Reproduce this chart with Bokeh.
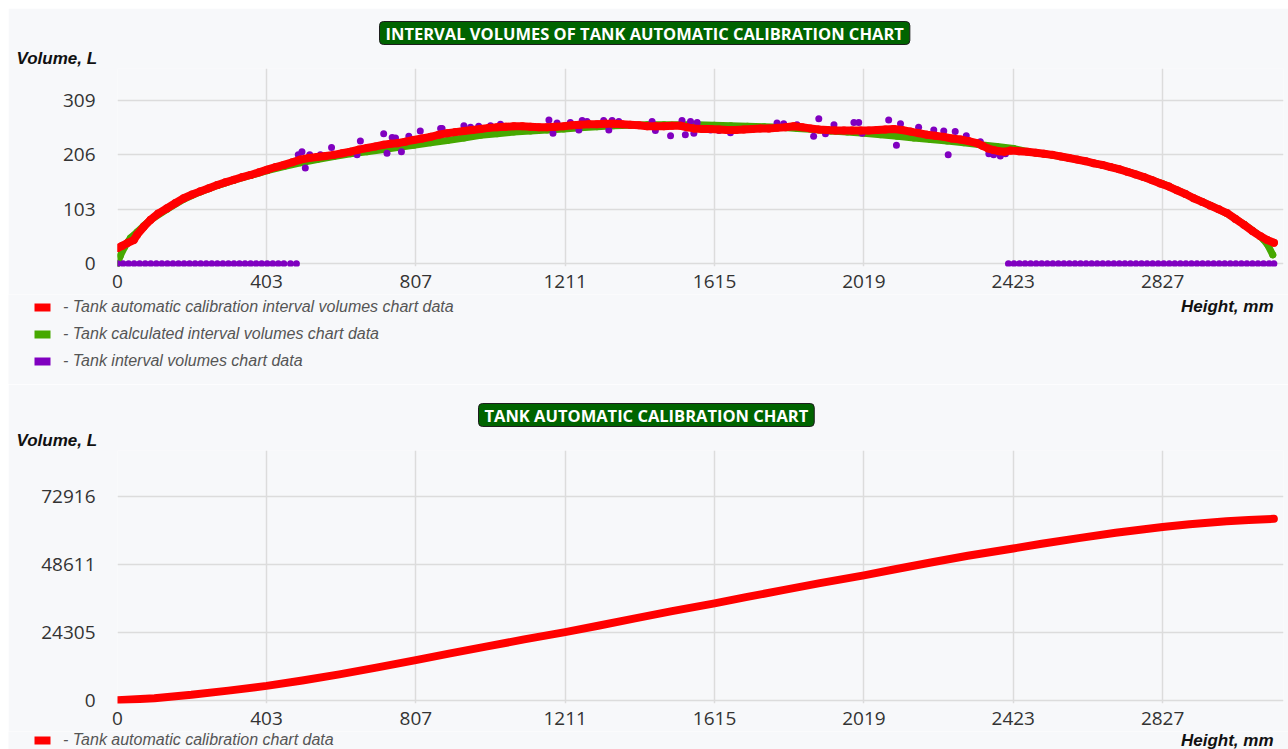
from bokeh.plotting import figure
from bokeh.models import Range1d, FixedTicker, Legend, LegendItem, Title, Label
from bokeh.layouts import column
from bokeh.embed import file_html
from bokeh.resources import INLINE

# ---------------- data ----------------
x_ticks = [0, 403, 807, 1211, 1615, 2019, 2423, 2827]
top_y_ticks = [0, 103, 206, 309]
bottom_y_ticks = [0, 24305, 48611, 72916]

red_h = [0, 13, 26, 44, 53, 71, 89, 110, 134, 157, 179, 202, 224, 247, 270, 292, 315, 338, 360, 383,
         405, 428, 450, 473, 495, 518, 540, 563, 585, 608, 630, 653, 675, 698, 720, 739, 757, 779, 801, 824,
         847, 869, 892, 914, 937, 960, 982, 1005, 1027, 1050, 1072, 1095, 1117, 1140, 1162, 1185, 1207, 1230, 1252, 1275,
         1297, 1320, 1342, 1365, 1387, 1410, 1433, 1455, 1478, 1500, 1523, 1541, 1559, 1582, 1604, 1627, 1649, 1672, 1694, 1717,
         1739, 1762, 1784, 1807, 1829, 1852, 1874, 1897, 1920, 1942, 1965, 1987, 2010, 2032, 2055, 2077, 2100, 2122, 2145, 2167,
         2190, 2212, 2235, 2257, 2280, 2302, 2325, 2340, 2355, 2370, 2385, 2400, 2415, 2438, 2461, 2484, 2506, 2529, 2551, 2574,
         2596, 2619, 2641, 2664, 2686, 2709, 2731, 2754, 2776, 2799, 2821, 2844, 2866, 2889, 2911, 2934, 2956, 2979, 3001, 3024,
         3047, 3070, 3092, 3110, 3128]
red_v = [30, 34, 39, 45, 55, 70, 83, 95, 105, 115, 124, 131, 137, 143, 149, 154, 159, 164, 168, 173,
         178, 183, 187, 192, 197, 200, 202, 204, 206, 209, 212, 216, 219, 222, 225, 227, 228, 231, 234, 237,
         240, 244, 247, 249, 251, 253, 255, 257, 258, 259, 260, 260, 259, 258, 258, 259, 260, 262, 263, 264,
         264, 265, 265, 264, 263, 262, 260, 260, 260, 261, 261, 258, 256, 255, 255, 254, 253, 253, 254, 255,
         256, 256, 257, 258, 260, 258, 256, 254, 253, 252, 252, 252, 252, 252, 253, 254, 255, 253, 250, 247,
         244, 242, 240, 237, 235, 232, 228, 223, 218, 215, 213, 212, 214, 213, 212, 210, 208, 206, 203, 200,
         197, 194, 190, 187, 183, 179, 174, 169, 164, 158, 152, 146, 139, 132, 124, 117, 110, 103, 96, 85,
         74, 62, 52, 45, 40]

green_h = [0, 8, 20, 35, 53, 71, 89, 134, 179, 224, 270, 315, 360, 405, 450, 495, 540, 585, 630, 675,
           720, 757, 801, 847, 892, 937, 982, 1027, 1072, 1117, 1162, 1207, 1252, 1297, 1342, 1387, 1433, 1478, 1523, 1568,
           1614, 1659, 1704, 1749, 1794, 1839, 1884, 1929, 1974, 2019, 2064, 2109, 2154, 2199, 2244, 2289, 2334, 2379, 2424, 2469,
           2514, 2559, 2604, 2649, 2694, 2739, 2784, 2829, 2874, 2919, 2964, 3009, 3047, 3080, 3100, 3112, 3125]
green_v = [0, 16, 33, 49, 60, 72, 83, 103, 122, 136, 148, 158, 167, 176, 184, 191, 197, 203, 208, 212,
           216, 220, 224, 229, 233, 238, 243, 246, 249, 251, 253, 255, 257, 259, 261, 262, 263, 263, 263, 263,
           262, 261, 260, 259, 258, 256, 254, 251, 249, 247, 244, 241, 238, 235, 232, 229, 225, 222, 218, 211,
           207, 202, 196, 189, 182, 173, 162, 151, 137, 122, 108, 92, 75, 58, 46, 35, 17]

purple_h = [0, 15, 30, 45, 60, 75, 90, 105, 120, 135, 150, 165, 180, 195, 210, 225, 240, 255, 270, 285,
            300, 315, 330, 345, 360, 375, 390, 405, 420, 435, 450, 468, 484,
            489, 499, 508, 520, 549, 579, 648, 657, 720, 729, 743, 752, 768, 788, 819, 874, 878, 937,
            955, 977, 1009, 1036, 1167, 1178, 1189, 1225, 1248, 1257, 1270, 1315, 1329, 1338, 1356, 1446, 1455, 1496,
            1527, 1536, 1550, 1559, 1568, 1604, 1627, 1658, 1784, 1802, 1838, 1883, 1897, 1915, 1938, 1992, 2005, 2014,
            2086, 2107, 2118, 2167, 2208, 2235, 2247, 2266, 2296, 2334, 2357, 2370, 2388, 2402,
            2410, 2425, 2440, 2455, 2470, 2485, 2500, 2515, 2530, 2545, 2560, 2575, 2590, 2605, 2620, 2635, 2650, 2665,
            2680, 2695, 2710, 2725, 2740, 2755, 2770, 2785, 2800, 2815, 2830, 2845, 2860, 2875, 2890, 2905, 2920, 2935,
            2950, 2965, 2980, 2995, 3010, 3025, 3040, 3055, 3070, 3085, 3100, 3115, 3128]
purple_v = [0, 0, 0, 0, 0, 0, 0, 0, 0, 0, 0, 0, 0, 0, 0, 0, 0, 0, 0, 0,
            0, 0, 0, 0, 0, 0, 0, 0, 0, 0, 0, 0, 0,
            206, 212, 181, 206, 206, 220, 206, 232, 246, 209, 239, 238, 212, 241, 251, 256, 256, 261,
            258, 260, 261, 264, 272, 247, 266, 267, 253, 271, 269, 271, 253, 271, 269, 269, 252, 242,
            271, 244, 269, 247, 267, 253, 252, 248, 266, 265, 263, 241, 274, 246, 263, 267, 267, 247,
            272, 224, 265, 258, 253, 251, 206, 250, 242, 231, 208, 206, 204, 208,
            0, 0, 0, 0, 0, 0, 0, 0, 0, 0, 0, 0, 0, 0, 0, 0, 0, 0,
            0, 0, 0, 0, 0, 0, 0, 0, 0, 0, 0, 0, 0, 0, 0, 0, 0, 0,
            0, 0, 0, 0, 0, 0, 0, 0, 0, 0, 0, 0, 0]

cum_h = [0, 100, 200, 300, 403, 500, 600, 700, 807, 900, 1000, 1100, 1211, 1300, 1400, 1500, 1615,
         1700, 1800, 1900, 2019, 2100, 2200, 2300, 2423, 2500, 2600, 2700, 2827, 2900, 3000, 3060, 3128]
cum_v = [0, 700, 1900, 3400, 5100, 7000, 9200, 11600, 14300, 16700, 19200, 21700, 24300, 26600, 29200, 31800, 34600,
         36800, 39300, 41800, 44600, 46700, 49200, 51600, 54200, 55900, 57900, 59800, 61900, 62900, 63900, 64400, 64800]

top_title = "INTERVAL VOLUMES OF TANK AUTOMATIC CALIBRATION CHART"
bottom_title = "TANK AUTOMATIC CALIBRATION CHART"
y_label = "Volume, L"
x_label = "Height, mm"
top_legend = ["- Tank automatic calibration interval volumes chart data",
              "- Tank calculated interval volumes chart data",
              "- Tank interval volumes chart data"]
bottom_legend = ["- Tank automatic calibration chart data"]

# ---------------- style ----------------
BG = "#f7f8fa"
RED = "#ff0000"
GREEN = "#46a800"
PURPLE = "#8000c0"
GRID = "#dcdcdc"
TICK_FONT = "Open Sans"
LEG_FONT = "Liberation Sans"
X_END = 3154


def no_frame_align(p):
    if "frame_align" in p.properties():
        p.frame_align = False


def make_fig(height, b_top, b_bottom, y0, y1, yticks):
    p = figure(width=1280, height=height, output_backend="svg", toolbar_location=None,
               x_range=Range1d(0, X_END), y_range=Range1d(y0, y1),
               min_border_left=109, min_border_right=5, min_border_top=b_top, min_border_bottom=b_bottom,
               background_fill_color=BG, border_fill_color=BG, outline_line_color=None, title=None)
    no_frame_align(p)
    for ax, ticks, standoff in ((p.xaxis, x_ticks, 2), (p.yaxis, yticks, 16)):
        ax.ticker = FixedTicker(ticks=ticks)
        ax.axis_line_color = None
        ax.major_tick_line_color = None
        ax.minor_tick_line_color = None
        ax.major_label_text_font = TICK_FONT
        ax.major_label_text_font_size = "19px"
        ax.major_label_text_color = "#333333"
        ax.major_label_standoff = standoff
    p.xgrid.ticker = FixedTicker(ticks=x_ticks)
    p.ygrid.ticker = FixedTicker(ticks=yticks)
    for g in (p.xgrid, p.ygrid):
        g.grid_line_color = GRID
        g.grid_line_width = 1.5
    return p


def add_titles(p, title, title_offset):
    p.add_layout(Title(text=y_label, align="left", offset=-101, standoff=0, vertical_align="middle",
                       text_font=LEG_FONT, text_font_size="17px", text_font_style="bold italic",
                       text_color="#111111"), "above")
    p.add_layout(Title(text=title, align="left", offset=title_offset, standoff=4, vertical_align="middle",
                       text_color="white", text_font=TICK_FONT, text_font_size="16.5px", text_font_style="bold",
                       background_fill_color="#006400", border_line_color="#1e1e1e", border_line_width=1,
                       border_radius=4, padding=(6, 0)), "above")


def make_footer(height, labels, colors, leg_loc, label_height, height_label_y):
    f = figure(width=1280, height=height, output_backend="svg", toolbar_location=None,
               x_range=Range1d(0, 1), y_range=Range1d(0, 1), x_axis_location=None, y_axis_location=None,
               min_border=0, min_border_left=0, min_border_right=0, min_border_top=0, min_border_bottom=0,
               background_fill_color=BG, border_fill_color=BG, outline_line_color=None, title=None)
    no_frame_align(f)
    f.grid.visible = False
    items = []
    for lab, col in zip(labels, colors):
        # legend swatch only (kept outside the visible range)
        r = f.quad(left=[2], right=[3], top=[3], bottom=[2], fill_color=col, line_color=None)
        items.append(LegendItem(label=lab, renderers=[r]))
    f.add_layout(Legend(items=items, location=leg_loc, orientation="vertical", background_fill_alpha=0,
                        border_line_color=None, padding=0, margin=0, spacing=7, glyph_width=20, glyph_height=10,
                        label_height=label_height, label_standoff=11, label_text_font=LEG_FONT,
                        label_text_font_size="16px", label_text_font_style="italic",
                        label_text_color="#555555"))
    f.add_layout(Label(x=1265, y=height_label_y, x_units="screen", y_units="screen", text=x_label,
                       text_align="right", text_baseline="middle", text_color="#111111",
                       text_font=LEG_FONT, text_font_size="17px", text_font_style="bold italic"))
    return f


# ---------------- top chart ----------------
top = make_fig(286, 60, 28, -5, 369.2, top_y_ticks)
top.line(green_h, green_v, line_color=GREEN, line_width=7, line_join="round", line_cap="round")
top.scatter(green_h, green_v, size=7, fill_color=GREEN, line_color=None)
top.scatter(purple_h, purple_v, size=7, fill_color=PURPLE, line_color=None)
top.line(red_h, red_v, line_color=RED, line_width=8, line_join="round", line_cap="round")
top.scatter(red_h, red_v, size=8, fill_color=RED, line_color=None)
add_titles(top, top_title, 262)
top_footer = make_footer(90, top_legend, [RED, GREEN, PURPLE], (24, 13), 20, 78)

# ---------------- bottom chart ----------------
bottom = make_fig(347, 66, 28, -1200, 89228, bottom_y_ticks)
bottom.line(cum_h, cum_v, line_color=RED, line_width=8, line_join="round", line_cap="round")
add_titles(bottom, bottom_title, 361)
bottom_footer = make_footer(18, bottom_legend, [RED], (24, 0), 18, 9)

layout = column(top, top_footer, bottom, bottom_footer, margin=(8, 0, 0, 8))
open("out.html", "w").write(file_html(layout, INLINE))
